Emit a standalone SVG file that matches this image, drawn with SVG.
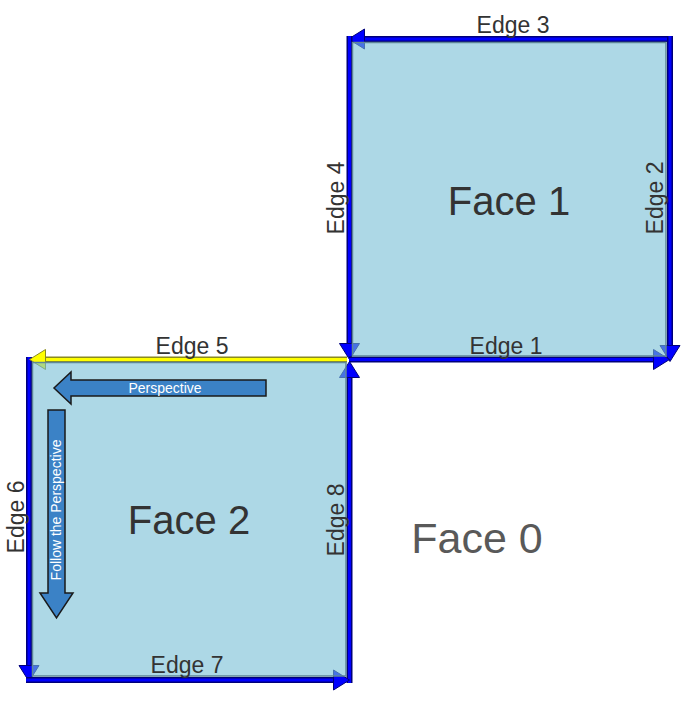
<svg xmlns="http://www.w3.org/2000/svg" width="689" height="701" viewBox="0 0 689 701">
  <style>
    .outline { fill: none; stroke: #00007a; stroke-width: 6; }
    .core { fill: none; stroke: #0000ff; stroke-width: 3; }
    .outline-y { fill: none; stroke: #8a8a20; stroke-width: 6; }
    .core-y { fill: none; stroke: #ffff00; stroke-width: 3; }
    .face { fill: #76bed5; fill-opacity: 0.6; stroke: #5f8797; stroke-width: 1.5; }
    .elabel { font-family: "Liberation Sans", Arial, sans-serif; font-size: 23px; fill: #333333; text-anchor: middle; }
    .flabel { font-family: "Liberation Sans", Arial, sans-serif; font-size: 40px; fill: #333333; text-anchor: middle; }
    .f0label { font-family: "Liberation Sans", Arial, sans-serif; font-size: 43px; fill: #595959; text-anchor: middle; }
    .barrow { fill: #3b82c6; stroke: #1a1a1a; stroke-width: 1.5; stroke-linejoin: miter; }
    .btext { font-family: "Liberation Sans", Arial, sans-serif; font-size: 14px; fill: #ffffff; text-anchor: middle; }
  </style>
  <defs>
    <marker id="ahB" viewBox="0 0 16 20" refX="0.5" refY="10" markerWidth="16" markerHeight="20" markerUnits="userSpaceOnUse" orient="auto" overflow="visible">
      <path d="M0,0 L16,10 L0,20 Z" fill="#0000ff" stroke="#00007a" stroke-width="1"/>
    </marker>
    <marker id="ahY" viewBox="0 0 16 20" refX="0.5" refY="10" markerWidth="16" markerHeight="20" markerUnits="userSpaceOnUse" orient="auto" overflow="visible">
      <path d="M0,0 L16,10 L0,20 Z" fill="#ffff00" stroke="#8a8a20" stroke-width="1"/>
    </marker>
  </defs>

  <g id="connectors">
    <g id="edge3">
      <path class="outline" d="M670,39 L364,39"/>
      <path class="core" d="M670,39 L364,39" marker-end="url(#ahB)"/>
    </g>
    <g id="edge2">
      <path class="outline" d="M670,36 L670,346"/>
      <path class="core" d="M670,36 L670,346" marker-end="url(#ahB)"/>
    </g>
    <g id="edge4">
      <path class="outline" d="M349.5,36 L349.5,344"/>
      <path class="core" d="M349.5,36 L349.5,344" marker-end="url(#ahB)"/>
    </g>
    <g id="edge1">
      <path class="outline" d="M349,359.5 L654,359.5"/>
      <path class="core" d="M349,359.5 L654,359.5" marker-end="url(#ahB)"/>
    </g>
    <g id="edge8">
      <path class="outline" d="M349.5,683 L349.5,377"/>
      <path class="core" d="M349.5,683 L349.5,377" marker-end="url(#ahB)"/>
    </g>
    <g id="edge6">
      <path class="outline" d="M29,357 L29,666"/>
      <path class="core" d="M29,357 L29,666" marker-end="url(#ahB)"/>
    </g>
    <g id="edge7">
      <path class="outline" d="M26,680 L334,680"/>
      <path class="core" d="M26,680 L334,680" marker-end="url(#ahB)"/>
    </g>
    <g id="edge5">
      <path class="outline-y" d="M347,359.5 L45,359.5"/>
      <path class="core-y" d="M347,359.5 L45,359.5" marker-end="url(#ahY)"/>
    </g>
  </g>

  <g id="face1">
    <rect class="face" x="352.5" y="42.5" width="313.5" height="313.5"/>
    <text class="flabel" x="509" y="215">Face 1</text>
  </g>
  <g id="face2">
    <rect class="face" x="32.5" y="362.5" width="313.5" height="313.5"/>
    <text class="flabel" x="189" y="534">Face 2</text>
  </g>
  <g id="face0">
    <text class="f0label" x="477" y="553">Face 0</text>
  </g>

  <g id="edge-labels">
    <text class="elabel" x="513" y="33">Edge 3</text>
    <text class="elabel" x="506" y="354">Edge 1</text>
    <text class="elabel" x="192" y="354">Edge 5</text>
    <text class="elabel" x="187" y="673">Edge 7</text>
    <text class="elabel" x="663" y="198" transform="rotate(-90 663 198)">Edge 2</text>
    <text class="elabel" x="344" y="198" transform="rotate(-90 344 198)">Edge 4</text>
    <text class="elabel" x="24" y="517" transform="rotate(-90 24 517)">Edge 6</text>
    <text class="elabel" x="344" y="520" transform="rotate(-90 344 520)">Edge 8</text>
  </g>

  <g id="perspective-arrow">
    <path class="barrow" d="M266,380 L71,380 L71,372 L54,388 L71,404 L71,396 L266,396 Z"/>
    <text class="btext" x="165" y="393">Perspective</text>
  </g>
  <g id="follow-arrow">
    <path class="barrow" d="M48,410 L65,410 L65,593 L73,593 L56.5,618 L40,593 L48,593 Z"/>
    <text class="btext" x="61" y="510" transform="rotate(-90 61 510)">Follow the Perspective</text>
  </g>
</svg>
